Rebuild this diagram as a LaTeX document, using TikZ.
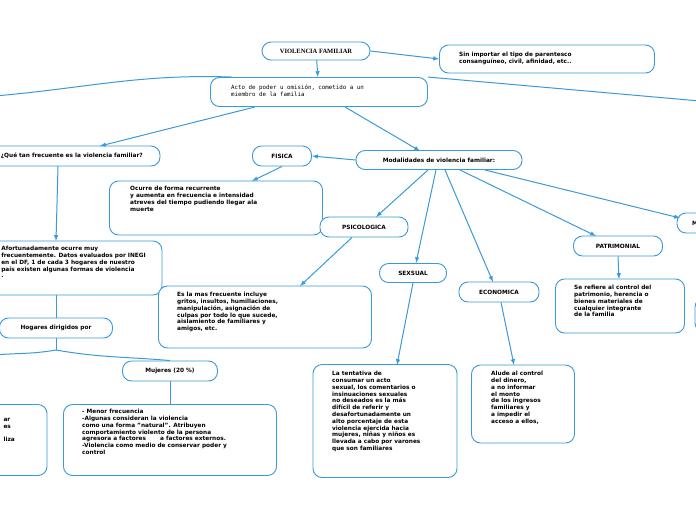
\documentclass[tikz,border=0pt]{standalone}
\usepackage{fontspec}
\setmainfont{DejaVu Sans}
\newfontfamily\titlef{Liberation Serif}
\newfontfamily\monof{DejaVu Sans Mono}
\begin{document}
\definecolor{bl}{HTML}{3A9AD9}
\begin{tikzpicture}[x=1pt,y=-1pt,
  box/.style={draw=bl,line width=0.9pt,rounded corners=9pt,fill=white,inner sep=0pt,font=\fontsize{5.8}{6.8}\selectfont\bfseries},
  tx/.style={align=left,font=\fontsize{5.8}{6.8}\selectfont\bfseries,inner sep=0pt},
  ln/.style={draw=bl,line width=1pt},
  ar/.style={ln,-latex}]
\useasboundingbox (0,0) rectangle (696,520);
% boxes
\node[box,minimum width=108pt,minimum height=18pt] (vf) at (316,51) {\titlef\fontsize{6.5}{7}\selectfont\bfseries VIOLENCIA FAMILIAR};
\node[box,minimum width=215pt,minimum height=28pt] (sin) at (547,59) {};
\node[tx,anchor=north west] (sint) at (459,52) {Sin importar el tipo de parentesco\\consanguíneo, civil, afinidad, etc..};
\node[box,minimum width=217pt,minimum height=29pt] (acto) at (319,92) {};
\node[tx,anchor=north west,font=\monof\fontsize{5.8}{7}\selectfont] (actot) at (231,85) {Acto de poder u omisión, cometido a un\\miembro de la familia};
\node[box,minimum width=200pt,minimum height=20pt] (que) at (60,156) {};
\node[tx,anchor=east] (quet) at (143,156) {¿Qué tan frecuente es la violencia familiar?};
\node[box,minimum width=59pt,minimum height=20pt] (fis) at (282,156) {FISICA};
\node[box,minimum width=166pt,minimum height=19pt] (mod) at (439,160) {Modalidades de violencia familiar:};
\node[box,minimum width=213pt,minimum height=54pt] (ocu) at (216,208) {};
\node[tx,anchor=north west] (ocut) at (130,186) {Ocurre de forma recurrente\\y aumenta en frecuencia e intensidad\\atreves del tiempo pudiendo llegar ala\\muerte};
\node[box,minimum width=88pt,minimum height=20pt] (psi) at (364,227) {PSICOLOGICA};
\node[box,minimum width=222pt,minimum height=54pt] (afo) at (51,268) {};
\node[tx,anchor=north east] (afot) at (146,246) {Afortunadamente ocurre muy\\frecuentemente. Datos evaluados por INEGI\\en el DF, 1 de cada 3 hogares de nuestro\\país existen algunas formas de violencia\\.};
\node[box,minimum width=113pt,minimum height=20pt] (hog) at (56,328) {Hogares dirigidos por};
\node[box,minimum width=213pt,minimum height=62pt] (esl) at (265,317) {};
\node[tx,anchor=north west] (eslt) at (177,292) {Es la mas frecuente incluye\\gritos, insultos, humillaciones,\\manipulación, asignación de\\ culpas por todo lo que sucede,\\aislamiento de familiares y\\amigos, etc.};
\node[box,minimum width=67pt,minimum height=19pt] (sex) at (413,273) {SEXSUAL};
\node[box,minimum width=80pt,minimum height=20pt] (eco) at (499,292) {ECONOMICA};
\node[box,minimum width=89pt,minimum height=20pt] (pat) at (618,246) {PATRIMONIAL};
\node[box,minimum width=50pt,minimum height=20pt] (mor) at (702,223) {};
\node[tx,anchor=west] (mort) at (692,223) {MORAL};
\node[box,minimum width=129pt,minimum height=54pt] (ser) at (620,306) {};
\node[tx,anchor=north west] (sert) at (574,285) {Se refiere al control del\\patrimonio, herencia o\\bienes materiales de\\cualquier integrante\\de la familia};
\node[box,minimum width=40pt,minimum height=34pt] (rbox) at (715,315) {};
\node[box,minimum width=95pt,minimum height=20pt] (muj) at (170,371) {Mujeres (20 \%)};
\node[box,minimum width=213pt,minimum height=71pt] (men) at (170,440) {};
\node[tx,anchor=north west] (ment) at (82,409) {- Menor frecuencia\\-Algunas consideran la violencia\\ como una forma "natural". Atribuyen\\comportamiento violento de la persona\\agresora a factores \hspace{10pt} a factores externos.\\-Violencia como medio de conservar poder y\\control};
\node[box,minimum width=120pt,minimum height=71pt] (hom) at (-13,440) {};
\node[tx,anchor=north east] (homt) at (15,418) {ar\\es\\\\liza};
\node[box,minimum width=144pt,minimum height=113pt] (ten) at (385,421) {};
\node[tx,anchor=north west] (tent) at (332,371) { La tentativa de\\ consumar un acto\\sexual, los comentarios o\\insinuaciones sexuales\\ no deseados es la más\\difícil de referir y\\desafortunadamente un\\alto porcentaje de esta\\violencia ejercida hacia\\ mujeres, niñas y niños es\\llevada a cabo por varones\\ que son familiares};
\node[box,minimum width=103pt,minimum height=78pt] (alu) at (523,404) {};
\node[tx,anchor=north west] (alut) at (491,371) {Alude al control\\del dinero,\\a no informar\\el monto\\ de los ingresos\\familiares y\\a impedir el\\acceso a ellos,};
\coordinate (lend) at (-5,96);
\coordinate (rend) at (700,101);
\coordinate (hl) at (-5,355);
\coordinate (hj) at (56,350);
% connectors
\draw[ar] (vf) -- (acto);
\draw[ar] (vf.east) -- (sin.west);
\draw[ln] (acto.north west)++(22,0) coordinate (a1) to[out=178,in=5] (lend);
\draw[ln] (acto.north east) -- (rend);
\draw[ar] (acto.south)++(-64,0) -- (100,146);
\draw[ar] (345,107) -- (420,151);
\draw[ar] (mod.west) -- (fis.east);
\draw[ar] (fis.south) -- (252,181);
\draw[ar] (428,170) -- (376,217);
\draw[ar] (436,170) -- (416,263);
\draw[ar] (445,170) -- (493,282);
\draw[ar] (460,170) -- (596,236);
\draw[ar] (485,170) -- (680,218);
\draw[ar] (psi.south) ++(-12,0) -- (300,286);
\draw[ar] (sex.south) -- (397,365);
\draw[ar] (eco.south) ++(2,0) -- (514,365);
\draw[ar] (pat.south) -- (619,279);
\draw[ar] (58,166) -- (56,241);
\draw[ln] (afo.south) ++(5,0) -- (hog.north);
\draw[ln] (hog.south) -- (hj);
\draw[ln] (hj) to[out=190,in=5] (hl);
\draw[ln] (hj) to[out=-10,in=175] (muj.north);
\draw[ln] (muj.south) -- (men.north);
\end{tikzpicture}
\end{document}
